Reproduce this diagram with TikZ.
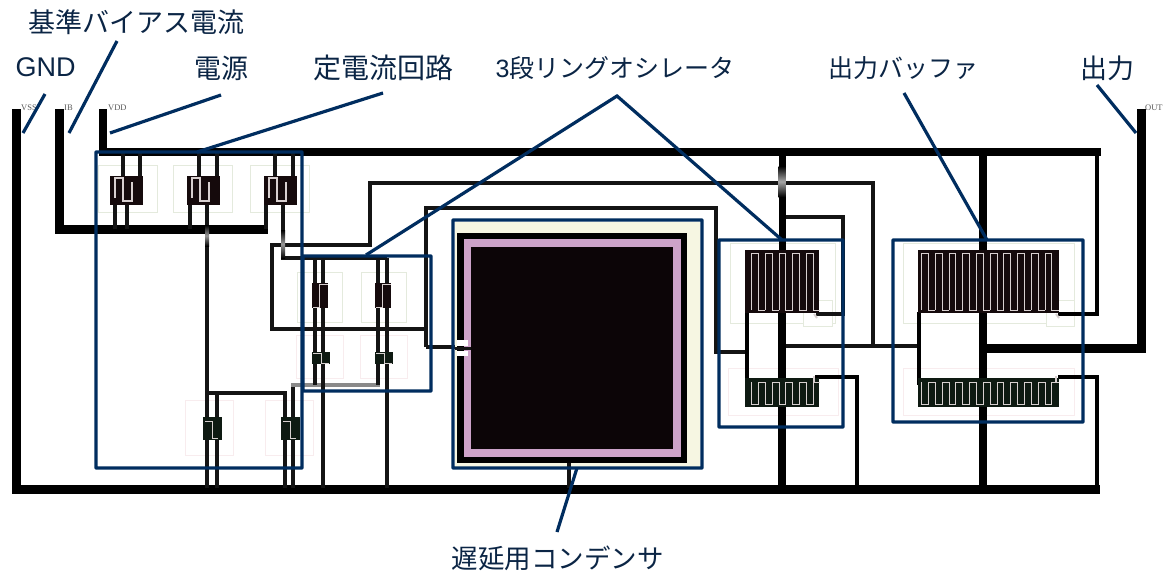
\documentclass[tikz,border=0pt]{standalone}
\usepackage{fontspec}
\setmainfont{Liberation Sans}
\newfontfamily\jpfont{Noto Sans CJK JP}
\newfontfamily\pinfont{Liberation Serif}
\definecolor{navy}{HTML}{002D5F}
\definecolor{txt}{HTML}{0B2545}
\definecolor{halog}{HTML}{E4EADD}
\definecolor{halop}{HTML}{F8ECEE}
\definecolor{cream}{HTML}{F6F6E2}
\definecolor{ring}{HTML}{CDA3C9}
\definecolor{dk}{HTML}{150A0C}
\definecolor{capdk}{HTML}{0C0507}
\definecolor{dkg}{HTML}{0E1A12}
\definecolor{mgray}{HTML}{8A8A8A}
\definecolor{fing}{HTML}{D8D0D0}
\tikzset{
  lab/.style={font=\jpfont\fontsize{#1}{#1}\selectfont,text=txt,inner sep=0pt,anchor=center},
  lab/.default=25,
  pin/.style={font=\pinfont\fontsize{8.5}{8.5}\selectfont,text=black!65,inner sep=0pt,anchor=west},
  blue box/.style={draw=navy,line width=3.2pt,rounded corners=0.5pt,inner sep=0pt,outer sep=0pt,anchor=north west},
  leader/.style={draw=navy,line width=3.2pt},
  railA/.style={draw=black,line width=9pt,line cap=butt,line join=miter},
  railB/.style={draw=black,line width=4.5pt,line join=miter},
  railC/.style={draw=black!92,line width=3.4pt,line join=miter},
  halo g/.style={draw=halog,line width=1pt,fill=white},
  halo p/.style={draw=halop,line width=1pt,fill=white},
  meander/.style={draw=fing,line width=1pt,line join=miter},
}
\newcommand{\fingersup}[5]{%
  \pgfmathsetmacro{\pp}{#5}%
  \foreach \k in {1,...,#4}{
    \pgfmathsetmacro{\xa}{#1+(\k-1)*\pp}
    \pgfmathsetmacro{\xb}{\xa+\pp/2}
    \pgfmathsetmacro{\xc}{\xa+\pp}
    \draw[meander] (\xa,#3) -- (\xa,#2) -- (\xb,#2) -- (\xb,#3) -- (\xc,#3);
  }}
\newcommand{\fingersdown}[5]{%
  \pgfmathsetmacro{\pp}{#5}%
  \foreach \k in {1,...,#4}{
    \pgfmathsetmacro{\xa}{#1+(\k-1)*\pp}
    \pgfmathsetmacro{\xb}{\xa+\pp/2}
    \pgfmathsetmacro{\xc}{\xa+\pp}
    \draw[meander] (\xa,#2) -- (\xa,#3) -- (\xb,#3) -- (\xb,#2) -- (\xc,#2);
  }}
\begin{document}
\begin{tikzpicture}[x=1pt,y=-1pt]
\useasboundingbox (0,0) rectangle (1163,573);
\fill[white] (0,0) rectangle (1163,573);

% ---- faint halos
\foreach \hx in {98,173,250}{ \draw[halo g] (\hx,165) rectangle ++(59,47); }
\foreach \hx in {297,361}{ \draw[halo g] (\hx,272) rectangle ++(45,50); \draw[halo p] (\hx-1,335) rectangle ++(47,43); }
\foreach \hx in {185,265}{ \draw[halo p] (\hx,400) rectangle ++(48,55); }
\draw[halo g] (730,243) rectangle (835,323);
\draw[halo g] (803,300) rectangle (832,326);
\draw[halo p] (728,368) rectangle (838,415);
\draw[halo g] (903,243) rectangle (1074,323);
\draw[halo g] (1046,300) rectangle (1074,326);
\draw[halo p] (903,368) rectangle (1074,415);

% ---- thin signal wiring
\draw[railC] (873,346) -- (873,183) -- (370,183) -- (370,245) -- (272,245) -- (272,329) -- (426,329);
\draw[railC] (426,347) -- (426,208) -- (716,208) -- (716,352) -- (747,352);
\draw[railC] (426,347) -- (462,347);
\draw[draw=black,line width=4pt] (747,312) -- (747,385);
\draw[railC] (782,346) -- (920,346);
\draw[draw=black,line width=4.5pt] (919,312) -- (919,385);
\draw[railC] (782,217) -- (843,217) -- (843,314) -- (816,314);
\draw[railB] (815,377) -- (857,377) -- (857,488);
\draw[railB] (1058,377) -- (1097,377) -- (1097,488);
\draw[railB] (1058,314) -- (1097,314) -- (1097,152);

% ---- power rails
\draw[railA] (16,109) -- (16,489) -- (1100,489);
\draw[railA] (59,109) -- (59,229) -- (268,229);
\draw[railA,line width=8pt] (103,109) -- (103,152) -- (1101,152);
\draw[railA] (1141,109) -- (1141,348) -- (983,348);
\draw[railA,line width=7pt] (782,152) -- (782,250);
\draw[railA,line width=8pt] (782,312) -- (782,488);
\draw[railA,line width=8pt] (983,152) -- (983,488);
\shade[top color=black,bottom color=black,middle color=black!35] (778.5,166) rectangle (785.5,197);

% ---- current mirror wiring
\foreach \wx in {123,140,199,217,275,293}{ \draw[railC] (\wx,152) -- (\wx,177); }
\foreach \wx in {115,127,190,266}{ \draw[railC] (\wx,204) -- (\wx,229); }
\draw[railC] (207,204) -- (207,488);
\shade[top color=black,bottom color=black,middle color=black!40] (205,225) rectangle (209,246);
\draw[railC] (283,204) -- (283,258) -- (387,258);
\shade[top color=black,bottom color=black,middle color=black!40] (281,230) rectangle (285,258);
\draw[railC] (207,393) -- (285,393) -- (285,488);
\draw[railC] (217,393) -- (217,488);
\draw[railC] (293,386) -- (293,488);
\draw[draw=mgray,line width=4.5pt] (291,385) -- (380,385);
\foreach \wx in {315,378}{ \draw[railC] (\wx,258) -- (\wx,385); }
\foreach \wx in {323,387}{ \draw[railC,line width=4.5pt] (\wx,258) -- (\wx,488); }

% ---- small fets, current mirror
\foreach \bx in {110,187,264}{
  \fill[dk] (\bx,176) rectangle ++(33,29);
  \draw[fing,line width=1.2pt] (\bx+5,198) -- (\bx+5,178) -- (\bx+13,178) -- (\bx+13,201) -- (\bx+22,201) -- (\bx+22,182);
}
% lower-left and ring small fets
\foreach \ax/\ay/\ah in {203/417/23,281/417/23}{
  \fill[dkg] (\ax,\ay) rectangle ++(19,\ah);
  \draw[fing,line width=1pt] (\ax+2,\ay+4) -- (\ax+9,\ay+4) -- (\ax+9,\ay+\ah-2) -- (\ax+15,\ay+\ah-2);
}
\foreach \ax in {312,375}{
  \fill[dk] (\ax,283) rectangle ++(16,25);
  \draw[fing,line width=1pt] (\ax+1,307) -- (\ax+7,307) -- (\ax+7,284) -- (\ax+16,284);
  \fill[dkg] (\ax,352) rectangle ++(18,12);
  \draw[fing,line width=1pt] (\ax+1,353) -- (\ax+9,353) -- (\ax+9,363) -- (\ax+17,363);
}

% ---- finger transistors
\fill[dk] (745,250) rectangle (819,313);
\fingersup{751.7}{253}{310}{5}{13.7}
\fill[dkg] (745,378) rectangle (819,407);
\fingersdown{751.7}{382}{404}{5}{13.7}
\fill[dk] (918,250) rectangle (1059,313);
\fingersup{921.7}{253}{310}{10}{13.7}
\fill[dkg] (918,378) rectangle (1059,407);
\fingersdown{921.7}{382}{404}{10}{13.7}
\draw[fing,line width=2pt] (814,314) -- (817,318);
\draw[fing,line width=2pt] (1056,314) -- (1059,318);
\draw[fing,line width=2pt] (814,376) -- (814,382);
\draw[fing,line width=2pt] (1056,376) -- (1056,382);

% ---- capacitor
\fill[cream] (455,222) rectangle (700,467);
\fill[black] (457,233) rectangle (687,463);
\fill[ring] (464,239) rectangle (681,457);
\fill[capdk] (471,247) rectangle (673,449);
\fill[white] (457,340) rectangle (468,346);
\fill[white] (457,351) rectangle (468,356);
\draw[railC,line width=2.5pt] (455,348.5) -- (471,348.5);
\draw[railC,line width=4pt] (569,463) -- (569,488);

% ---- tiny pin names
\node[pin] (pinvss) at (21,108) {VSS};
\node[pin] (pinib) at (64,108) {IB};
\node[pin] (pinvdd) at (108,108) {VDD};
\node[pin] (pinout) at (1145,108) {OUT};

% ---- highlight boxes
\node[blue box,minimum width=206pt,minimum height=316pt] (bmirror) at (96,152) {};
\node[blue box,minimum width=128pt,minimum height=135pt] (bring) at (303,256) {};
\node[blue box,minimum width=249pt,minimum height=248pt] (bcap) at (453,220) {};
\node[blue box,minimum width=124pt,minimum height=187pt] (binv) at (719,240) {};
\node[blue box,minimum width=190pt,minimum height=182pt] (bbuf) at (893,240) {};

% ---- labels
\node[lab=27,font=\rmfamily\fontsize{27}{27}\selectfont] (lgnd) at (45.5,67) {GND};
\node[lab=27] (lib) at (136.5,22) {基準バイアス電流};
\node[lab=27] (lvdd) at (221,68) {電源};
\node[lab=28] (lcs) at (383,68) {定電流回路};
\node[lab=25] (lring) at (615,68) {{\fontspec{Liberation Sans}3}段リングオシレータ};
\node[lab=25] (lbuf) at (903.5,68) {出力バッファ};
\node[lab=27] (lout) at (1107,68) {出力};
\node[lab=26.5] (lcap) at (557.5,558) {遅延用コンデンサ};

% ---- leaders
\coordinate (egnd) at (23,133);
\coordinate (eib) at (69,133);
\coordinate (evdd) at (110,133);
\coordinate (ecs) at (197,152);
\coordinate (ering) at (366,255);
\coordinate (einv) at (782,240);
\coordinate (ebuf) at (987,240);
\coordinate (ecap) at (577,468);
\coordinate (eout) at (1136,133);
\coordinate (sgnd) at (45,94);
\coordinate (sib) at (117,41);
\coordinate (svdd) at (221,95);
\coordinate (scs) at (383,93);
\coordinate (sring) at (617,96);
\coordinate (sbuf) at (904,93);
\coordinate (scap) at (557,532);
\coordinate (sout) at (1097,85);
\draw[leader] (sgnd) -- (egnd);
\draw[leader] (sib) -- (eib);
\draw[leader] (svdd) -- (evdd);
\draw[leader] (scs) -- (ecs);
\draw[leader] (ering) -- (sring) -- (einv);
\draw[leader] (sbuf) -- (ebuf);
\draw[leader] (scap) -- (ecap);
\draw[leader] (sout) -- (eout);
\end{tikzpicture}
\end{document}
